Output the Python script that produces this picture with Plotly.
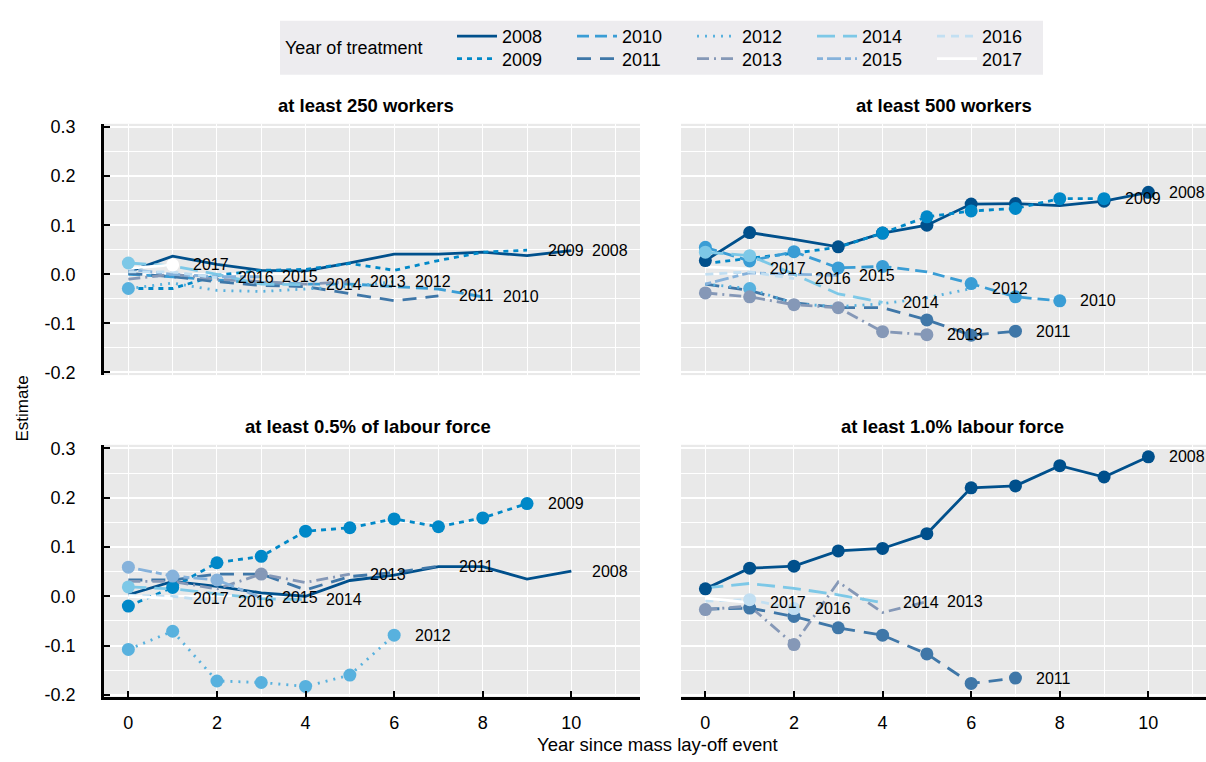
import plotly.graph_objects as go

# ---------------- data ----------------
years = [2008, 2009, 2010, 2011, 2012, 2013, 2014, 2015, 2016, 2017]
panel_titles = ["at least 250 workers", "at least 500 workers",
                "at least 0.5% of labour force", "at least 1.0% labour force"]
x_ticks = [0, 2, 4, 6, 8, 10]
y_ticks = [-0.2, -0.1, 0.0, 0.1, 0.2, 0.3]
y_tick_text = ["-0.2", "-0.1", "0.0", "0.1", "0.2", "0.3"]

# Panel A: at least 250 workers (values by year since event, starting at 0)
a2008 = [0.005, 0.037, 0.020, 0.008, 0.007, 0.023, 0.041, 0.041, 0.045, 0.038, 0.048]
a2009 = [-0.029, -0.029, -0.002, 0.008, 0.010, 0.022, 0.008, 0.028, 0.045, 0.049]
a2010 = [0.000, -0.005, -0.012, -0.017, -0.020, -0.020, -0.025, -0.030, -0.046]
a2011 = [0.002, -0.005, -0.015, -0.023, -0.025, -0.040, -0.054, -0.044]
a2012 = [-0.029, -0.018, -0.033, -0.035, -0.030, -0.025, -0.015]
a2013 = [-0.010, 0.000, -0.010, -0.015, -0.020, -0.015]
a2014 = [0.023, 0.017, 0.000, -0.020, -0.021]
a2015 = [0.010, 0.000, -0.005, -0.005]
a2016 = [0.005, 0.005, -0.007]
a2017 = [0.012, 0.019]
a_sig = {2012: [0], 2014: [0], 2017: [1]}

# Panel B: at least 500 workers
b2008 = [0.028, 0.085, 0.071, 0.056, 0.084, 0.100, 0.143, 0.144, 0.140, 0.149, 0.167]
b2009 = [0.022, 0.032, 0.043, 0.055, 0.084, 0.117, 0.129, 0.134, 0.154, 0.154]
b2010 = [0.055, 0.027, 0.046, 0.013, 0.016, 0.005, -0.019, -0.046, -0.054]
b2011 = [-0.020, -0.033, -0.058, -0.068, -0.068, -0.093, -0.124, -0.116]
b2012 = [-0.020, -0.029, -0.060, -0.066, -0.060, -0.048, -0.029]
b2013 = [-0.038, -0.046, -0.062, -0.068, -0.117, -0.123]
b2014 = [0.045, 0.038, 0.000, -0.040, -0.057]
b2015 = [-0.020, 0.003, 0.000, -0.002]
b2016 = [0.000, 0.005, -0.009]
b2017 = [0.015, 0.011]
b_sig = {2008: [0, 1, 3, 4, 5, 6, 7, 9, 10], 2009: [4, 5, 6, 7, 8, 9],
         2010: [0, 1, 2, 3, 4, 6, 7, 8], 2011: [5, 6, 7], 2012: [1],
         2013: [0, 1, 2, 3, 4, 5], 2014: [0, 1]}

# Panel C: at least 0.5% of labour force
c2008 = [0.003, 0.030, 0.020, 0.007, 0.000, 0.032, 0.043, 0.060, 0.060, 0.035, 0.051]
c2009 = [-0.020, 0.018, 0.068, 0.081, 0.132, 0.139, 0.157, 0.141, 0.159, 0.188]
c2011 = [0.033, 0.033, 0.045, 0.045, 0.013, 0.040, 0.048, 0.061]
c2012 = [-0.108, -0.071, -0.172, -0.175, -0.183, -0.160, -0.079]
c2013 = [0.030, 0.030, 0.015, 0.045, 0.028, 0.045]
c2014 = [0.019, 0.015, 0.005, -0.005, -0.007]
c2015 = [0.059, 0.041, 0.033, -0.003]
c2016 = [0.002, 0.000, -0.011]
c2017 = [0.000, -0.005]
c_sig = {2009: [0, 1, 2, 3, 4, 5, 6, 7, 8, 9], 2012: [0, 1, 2, 3, 4, 5, 6],
         2013: [3], 2014: [0], 2015: [0, 1, 2]}

# Panel D: at least 1.0% labour force
d2008 = [0.015, 0.057, 0.061, 0.092, 0.097, 0.127, 0.220, 0.224, 0.265, 0.242, 0.283]
d2011 = [-0.026, -0.024, -0.041, -0.064, -0.079, -0.117, -0.177, -0.166]
d2013 = [-0.027, -0.020, -0.098, 0.029, -0.033, -0.011]
d2014 = [0.017, 0.026, 0.016, 0.003, -0.013]
d2016 = [-0.010, -0.007, -0.025]
d2017 = [-0.004, -0.013]
d_sig = {2008: list(range(11)), 2011: [1, 2, 3, 4, 5, 6, 7], 2013: [0, 2], 2016: [1, 2]}

panels = [
    ({2008: a2008, 2009: a2009, 2010: a2010, 2011: a2011, 2012: a2012,
      2013: a2013, 2014: a2014, 2015: a2015, 2016: a2016, 2017: a2017}, a_sig),
    ({2008: b2008, 2009: b2009, 2010: b2010, 2011: b2011, 2012: b2012,
      2013: b2013, 2014: b2014, 2015: b2015, 2016: b2016, 2017: b2017}, b_sig),
    ({2008: c2008, 2009: c2009, 2011: c2011, 2012: c2012, 2013: c2013,
      2014: c2014, 2015: c2015, 2016: c2016, 2017: c2017}, c_sig),
    ({2008: d2008, 2011: d2011, 2013: d2013, 2014: d2014, 2016: d2016,
      2017: d2017}, d_sig),
]

# ---------------- style ----------------
W, H = 1206, 762
OX, OY = 0, 0  # body margin removed via post_script
FONT = "Liberation Sans, Arial, sans-serif"
colors = {2008: "#00508C", 2009: "#0088C8", 2010: "#3A9DD5", 2011: "#3F77A8",
          2012: "#58B1DE", 2013: "#8598B7", 2014: "#7DC8E7", 2015: "#86B2DB",
          2016: "#C2DFF2", 2017: "#FFFFFF"}
dashes = {2008: "solid", 2009: "5px,5px", 2010: "12px,6px", 2011: "14px,9px",
          2012: "2px,6px", 2013: "12px,5px,2px,5px", 2014: "18px,8px",
          2015: "6px,4px,14px,4px", 2016: "8px,6px", 2017: "solid"}
row1 = [2008, 2010, 2012, 2014, 2016]


def fx(p):
    """screen px -> paper fraction"""
    return (p - OX) / W


def fy(p):
    return 1 - (p - OY) / H


axis_ids = [("x", "y"), ("x2", "y2"), ("x3", "y3"), ("x4", "y4")]

fig = go.Figure()

# lines
for pi, (series, sig) in enumerate(panels):
    xa, ya = axis_ids[pi]
    for yr in years:
        if yr not in series:
            continue
        v = series[yr]
        fig.add_trace(go.Scatter(
            x=list(range(len(v))), y=v, mode="lines",
            line=dict(color=colors[yr], width=2.8, dash=dashes[yr]),
            name=str(yr), legendgroup=str(yr), showlegend=(pi == 0),
            legend="legend" if yr in row1 else "legend2",
            xaxis=xa, yaxis=ya, hoverinfo="skip"))

# markers (significant estimates)
for pi, (series, sig) in enumerate(panels):
    xa, ya = axis_ids[pi]
    for yr in years:
        if yr not in series or yr not in sig:
            continue
        v = series[yr]
        idx = sig[yr]
        fig.add_trace(go.Scatter(
            x=idx, y=[v[i] for i in idx], mode="markers",
            marker=dict(size=13, color=colors[yr], line=dict(width=0)),
            showlegend=False, xaxis=xa, yaxis=ya, hoverinfo="skip"))

annotations = []
# end-of-line labels
for pi, (series, sig) in enumerate(panels):
    xa, ya = axis_ids[pi]
    for yr in years:
        if yr not in series:
            continue
        v = series[yr]
        annotations.append(dict(
            x=len(v) - 1 + 0.42, y=v[-1], xref=xa, yref=ya, text=str(yr),
            showarrow=False, xanchor="left", yanchor="middle",
            font=dict(family=FONT, size=16, color="black")))

# panel titles
title_pos = [(366, 101), (944, 101), (368, 428), (952, 428)]
for t, (px, py) in zip(panel_titles, title_pos):
    annotations.append(dict(
        x=fx(px), y=fy(py), xref="paper", yref="paper", text="<b>" + t + "</b>",
        showarrow=False, xanchor="center", yanchor="middle",
        font=dict(family=FONT, size=18.5, color="black")))

# axis titles and legend title
annotations.append(dict(x=fx(22), y=fy(410), xref="paper", yref="paper", text="Estimate",
                        textangle=-90, showarrow=False, xanchor="center", yanchor="middle",
                        font=dict(family=FONT, size=17, color="black")))
annotations.append(dict(x=fx(657), y=fy(752), xref="paper", yref="paper",
                        text="Year since mass lay-off event", showarrow=False,
                        xanchor="center", yanchor="middle",
                        font=dict(family=FONT, size=18.5, color="black")))
annotations.append(dict(x=fx(283), y=fy(43), xref="paper", yref="paper",
                        text="Year of treatment", showarrow=False,
                        xanchor="left", yanchor="middle",
                        font=dict(family=FONT, size=18, color="black")))


def xcfg(domain, rng, bottom, anchor):
    return dict(domain=domain, range=rng, anchor=anchor, tickvals=x_ticks,
                showgrid=True, gridcolor="white", gridwidth=1.4,
                minor=dict(dtick=1, tick0=0, showgrid=True, gridcolor="white",
                           gridwidth=1.4, ticks=""),
                zeroline=False, showline=bottom, linecolor="black", linewidth=3,
                ticks="inside" if bottom else "", ticklen=6, tickwidth=1.5,
                tickcolor="black", showticklabels=bottom,
                tickfont=dict(family=FONT, size=18, color="black"),
                ticklabelstandoff=8)


def ycfg(domain, rng, left, anchor):
    return dict(domain=domain, range=rng, anchor=anchor, tickvals=y_ticks,
                ticktext=y_tick_text, showgrid=True, gridcolor="white", gridwidth=1.6,
                minor=dict(dtick=0.05, tick0=0, showgrid=True, gridcolor="white",
                           gridwidth=0.9, ticks=""),
                zeroline=False, showline=left, linecolor="black", linewidth=2.5,
                ticks="inside" if left else "", ticklen=6, tickwidth=1.5,
                tickcolor="black", showticklabels=left,
                tickfont=dict(family=FONT, size=18, color="black"),
                ticklabelstandoff=22)


# panel extents in screen pixels
xl = [fx(104), fx(640)]
xr = [fx(681), 1.0]
yt = [fy(376), fy(120)]
yb = [fy(703.5), fy(447)]
rl = [-0.55, 11.55]
rr = [-0.55, -0.55 + (W + OX - 681) / 44.3]
rt = [-0.2054, 0.3066]
rb = [-0.2036, 0.3074]

fig.update_layout(
    width=W, height=H, autosize=False,
    margin=dict(l=0, r=0, t=0, b=0),
    paper_bgcolor="white", plot_bgcolor="#E9E9E9",
    font=dict(family=FONT, size=18, color="black"),
    xaxis=xcfg(xl, rl, False, "y"), yaxis=ycfg(yt, rt, True, "x"),
    xaxis2=xcfg(xr, rr, False, "y2"), yaxis2=ycfg(yt, rt, False, "x2"),
    xaxis3=xcfg(xl, rl, True, "y3"), yaxis3=ycfg(yb, rb, True, "x3"),
    xaxis4=xcfg(xr, rr, True, "y4"), yaxis4=ycfg(yb, rb, False, "x4"),
    annotations=annotations,
    shapes=[dict(type="rect", xref="paper", yref="paper",
                 x0=fx(280), x1=fx(1043), y0=fy(70), y1=fy(15),
                 fillcolor="#EDECEF", line=dict(width=0), layer="below")],
    legend=dict(orientation="h", x=fx(452), y=fy(31), xanchor="left", yanchor="middle",
                entrywidth=65, entrywidthmode="pixels", bgcolor="rgba(0,0,0,0)",
                font=dict(family=FONT, size=18, color="black"), traceorder="normal",
                itemwidth=40),
    legend2=dict(orientation="h", x=fx(452), y=fy(54), xanchor="left", yanchor="middle",
                 entrywidth=65, entrywidthmode="pixels", bgcolor="rgba(0,0,0,0)",
                 font=dict(family=FONT, size=18, color="black"), traceorder="normal",
                 itemwidth=40),
    hovermode=False,
)

fig.write_html(
    "out.html",
    config={"displayModeBar": False},
    post_script="document.body.style.margin='0';document.body.style.overflow='hidden';",
)
